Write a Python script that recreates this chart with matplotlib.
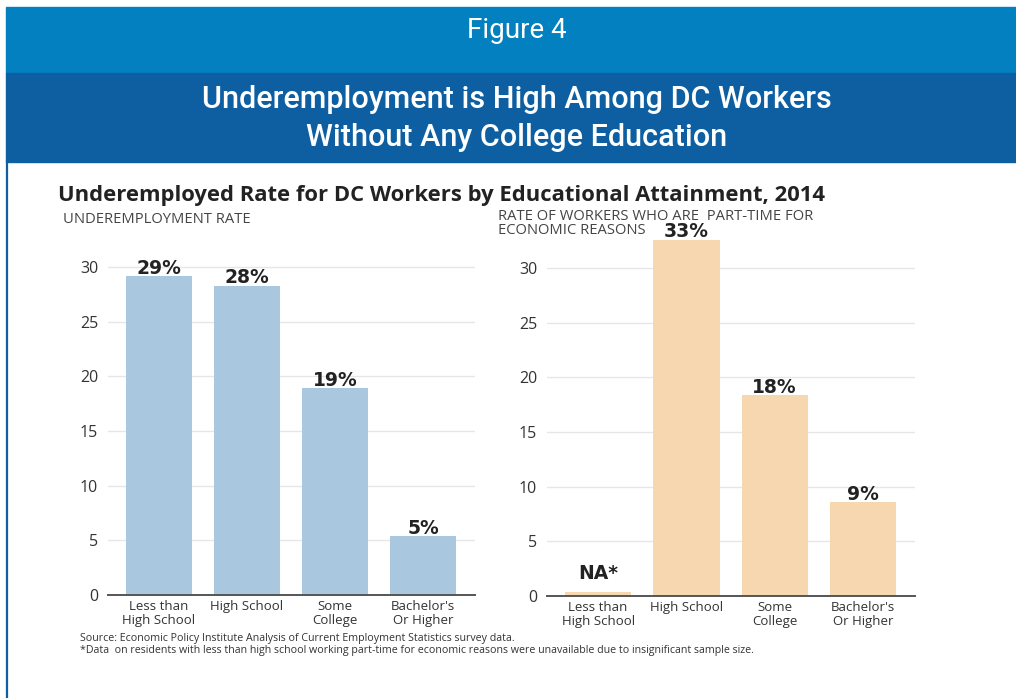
import matplotlib
matplotlib.use("Agg")
import matplotlib.pyplot as plt
import numpy as np
from matplotlib.patches import Rectangle
from matplotlib.lines import Line2D

W, H = 1016, 698

categories = ["Less than\nHigh School", "High School", "Some\nCollege", "Bachelor's\nOr Higher"]
underemployed = [29.2, 28.3, 18.9, 5.4]
part_time = [np.nan, 32.6, 18.4, 8.6]   # first group not reported
na_stub = 0.35
yticks = [0, 5, 10, 15, 20, 25, 30]

BLUE_BAR = "#aac7e0"
ORANGE_BAR = "#f7d7af"
HEAD_LIGHT = "#0380bf"
HEAD_DARK = "#0d5fa2"
TEXT = "#222222"

BODY = ["Open Sans", "DejaVu Sans"]
HEAD = ["Roboto", "DejaVu Sans"]
VALUE = ["DejaVu Sans"]

plt.rcParams["font.family"] = BODY

fig = plt.figure(figsize=(W / 100, H / 100), dpi=100)
fig.patch.set_facecolor("white")


def fx(px):
    return px / W


def fy(py):
    return 1 - py / H


def rect(x0, y0, x1, y1, color):
    fig.patches.append(Rectangle((fx(x0), fy(y1)), fx(x1) - fx(x0), fy(y0) - fy(y1),
                                 transform=fig.transFigure, color=color, zorder=0))


# header bands
rect(6, 7, W, 73, HEAD_LIGHT)
rect(6, 73, W, 162, HEAD_DARK)
fig.lines.append(Line2D([fx(7), fx(7)], [fy(162), 0], transform=fig.transFigure,
                        color=HEAD_DARK, linewidth=1.6))

fig.text(fx(517), fy(31), "Figure 4", ha="center", va="center", color="white",
         fontsize=20, family=HEAD)
fig.text(fx(517), fy(99), "Underemployment is High Among DC Workers", ha="center",
         va="center", color="white", fontsize=22, family=HEAD, fontweight="medium")
fig.text(fx(517), fy(138), "Without Any College Education", ha="center",
         va="center", color="white", fontsize=22, family=HEAD, fontweight="medium")

fig.text(fx(58), fy(195), "Underemployed Rate for DC Workers by Educational Attainment, 2014",
         ha="left", va="center", color=TEXT, fontsize=15.8, fontweight="bold")
fig.text(fx(63), fy(223), "UNDEREMPLOYMENT RATE", ha="left", va="baseline",
         color="#444444", fontsize=10.6)
fig.text(fx(498), fy(220), "RATE OF WORKERS WHO ARE  PART-TIME FOR", ha="left",
         va="baseline", color="#444444", fontsize=10.6)
fig.text(fx(498), fy(234), "ECONOMIC REASONS", ha="left", va="baseline",
         color="#444444", fontsize=10.6)

fig.text(fx(80), fy(639), "Source: Economic Policy Institute Analysis of Current Employment Statistics survey data.",
         ha="left", va="center", color="#333333", fontsize=7.7)
fig.text(fx(80), fy(651), "*Data  on residents with less than high school working part-time for economic reasons were unavailable due to insignificant sample size.",
         ha="left", va="center", color="#333333", fontsize=7.7)

PX_PER_UNIT = 10.93
YTOP = 34


def panel(x0, x1, zero_y, values, color):
    top = zero_y - YTOP * PX_PER_UNIT
    ax = fig.add_axes([fx(x0), fy(zero_y), fx(x1) - fx(x0), fy(top) - fy(zero_y)])
    x = np.arange(len(categories))
    heights = [na_stub if np.isnan(v) else v for v in values]
    ax.bar(x, heights, width=0.75, color=color, zorder=2)
    for xi, v, h in zip(x, values, heights):
        label = "NA*" if np.isnan(v) else f"{v:.0f}%"
        offset = 1.2 if np.isnan(v) else 0.2
        ax.text(xi, h + offset, label, ha="center", va="baseline", fontsize=13.5,
                fontweight="bold", color=TEXT, family=VALUE)
    ax.set_xlim(-0.58, 3.59)
    ax.set_ylim(0, YTOP)
    ax.set_yticks(yticks)
    ax.set_xticks(x)
    ax.set_xticklabels(categories, fontsize=9.5, color="#333333", linespacing=1.1)
    ax.tick_params(axis="both", length=0)
    ax.tick_params(axis="y", labelsize=11.5, labelcolor="#333333", pad=7)
    ax.tick_params(axis="x", pad=3.5)
    ax.grid(True, axis="y", color="#e6e6e6", linewidth=1.0, zorder=0)
    ax.set_axisbelow(True)
    for s in ["top", "right", "left"]:
        ax.spines[s].set_visible(False)
    ax.spines["bottom"].set_color("#555555")
    ax.spines["bottom"].set_linewidth(1.4)
    ax.spines["bottom"].set_zorder(3)
    ax.patch.set_alpha(0)
    return ax


panel(108, 475, 595, underemployed, BLUE_BAR)
panel(547, 915, 596, part_time, ORANGE_BAR)

fig.savefig("out.png", dpi=100)
